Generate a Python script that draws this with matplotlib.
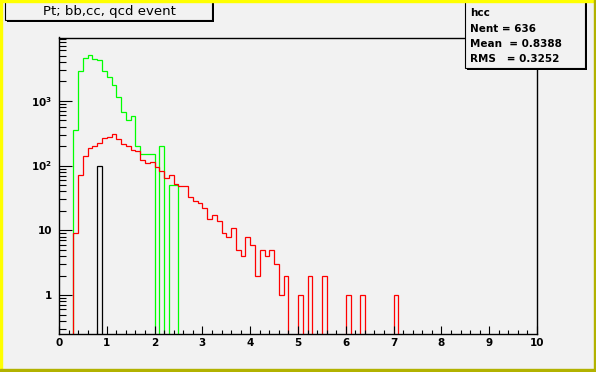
import numpy as np
import matplotlib
matplotlib.use("Agg")
import matplotlib.pyplot as plt
from matplotlib.patches import Rectangle
from matplotlib.ticker import FixedLocator, FixedFormatter, MultipleLocator

# binning: 100 bins from 0 to 10
edges = np.linspace(0, 10, 101)

# bin contents, starting at x = 0.3
red_counts = [9, 71, 142, 185, 199, 221, 264, 274, 305, 261,
              216, 201, 174, 166, 122, 108, 114, 96, 83, 64,
              71, 51, 48, 48, 33, 28, 26, 22, 15, 17,
              14, 9, 8, 11, 5, 4, 8, 6, 2, 5,
              4, 5, 3, 1, 2, 0, 0, 1, 0, 2,
              0, 0, 2, 0, 0, 0, 0, 1, 0, 0,
              1, 0, 0, 0, 0, 0, 0, 1]
green_counts = [355, 2870, 4650, 5060, 4440, 4240, 2870, 2340, 1780, 1135,
                673, 500, 590, 199, 150, 150, 150, 0, 200, 0,
                50, 50]
# black, starting at x = 0.8
black_counts = [100]

stats_lines = ["hcc", "Nent = 636", "Mean  = 0.8388", "RMS   = 0.3252"]
title = "Pt; bb,cc, qcd event"

W, H = 596, 372
bg = "#f2f2f2"
ymin, ymax = 0.25, 9500


def fill(start_bin, counts):
    h = np.zeros(100)
    h[start_bin:start_bin + len(counts)] = counts
    # empty bins are drawn at the bottom of the log axis
    return np.where(h > 0, h, ymin / 100)


def fx(x):
    return x / W


def fy(y):
    return 1 - y / H


plt.rcParams['font.family'] = 'DejaVu Sans'
plt.rcParams['mathtext.default'] = 'regular'

fig = plt.figure(figsize=(W / 100, H / 100), dpi=100, facecolor=bg)
ax = fig.add_axes([fx(59), fy(334), fx(537) - fx(59), fy(37.5) - fy(334)])
ax.set_facecolor(bg)

lw = 0.9
ax.stairs(fill(8, black_counts), edges, baseline=ymin / 100, color="black", lw=lw)
ax.stairs(fill(3, green_counts), edges, baseline=ymin / 100, color="#00ff00", lw=lw)
ax.stairs(fill(3, red_counts), edges, baseline=ymin / 100, color="#ff0000", lw=lw)

ax.set_yscale("log")
ax.set_xlim(0, 10)
ax.set_ylim(ymin, ymax)

ax.xaxis.set_major_locator(MultipleLocator(1))
ax.xaxis.set_minor_locator(MultipleLocator(0.2))
ax.yaxis.set_major_locator(FixedLocator([1, 10, 100, 1000]))
ax.yaxis.set_major_formatter(FixedFormatter(["1", "10", "$10^{2}$", "$10^{3}$"]))
ax.tick_params(axis="both", which="both", direction="in", top=False, right=False,
               labelsize=7.5, width=0.8, color="black")
ax.tick_params(axis="y", which="major", length=9.5, pad=5)
ax.tick_params(axis="y", which="minor", length=5)
ax.tick_params(axis="x", which="major", length=6, pad=3)
ax.tick_params(axis="x", which="minor", length=3)
for lab in ax.get_xticklabels() + ax.get_yticklabels():
    lab.set_fontweight("bold")
for s in ax.spines.values():
    s.set_linewidth(1)
    s.set_color("black")

# canvas bevel border
fig.patches.append(Rectangle((0, 0), fx(2), 1, transform=fig.transFigure, color="#ffff00", zorder=5))
fig.patches.append(Rectangle((0, fy(2)), 1, 2 / H, transform=fig.transFigure, color="#ffff00", zorder=5))
fig.patches.append(Rectangle((fx(594), 0), fx(2), 1, transform=fig.transFigure, color="#b2b200", zorder=6))
fig.patches.append(Rectangle((0, 0), 1, 3 / H, transform=fig.transFigure, color="#b2b200", zorder=6))


def pave(x0, y0, x1, y1):
    # shadow then box
    fig.patches.append(Rectangle((fx(x0 + 2), fy(y1 + 2)), fx(x1 - x0), fy(y0) - fy(y1),
                                 transform=fig.transFigure, facecolor="black",
                                 edgecolor="none", zorder=3))
    fig.patches.append(Rectangle((fx(x0), fy(y1)), fx(x1 - x0), fy(y0) - fy(y1),
                                 transform=fig.transFigure, facecolor=bg,
                                 edgecolor="black", lw=0.8, zorder=4))


pave(5, 1, 212, 20)
fig.text(fx(109), fy(11), title, ha="center", va="center", fontsize=9.5, zorder=7)

pave(465, 1, 585, 68)
stats_y = [13.5, 29, 44, 59]
for txt, yy in zip(stats_lines, stats_y):
    fig.text(fx(470), fy(yy), txt, ha="left", va="center", fontsize=7.5,
             fontweight="bold", zorder=7)

fig.savefig("out.png", dpi=100, facecolor=bg)
